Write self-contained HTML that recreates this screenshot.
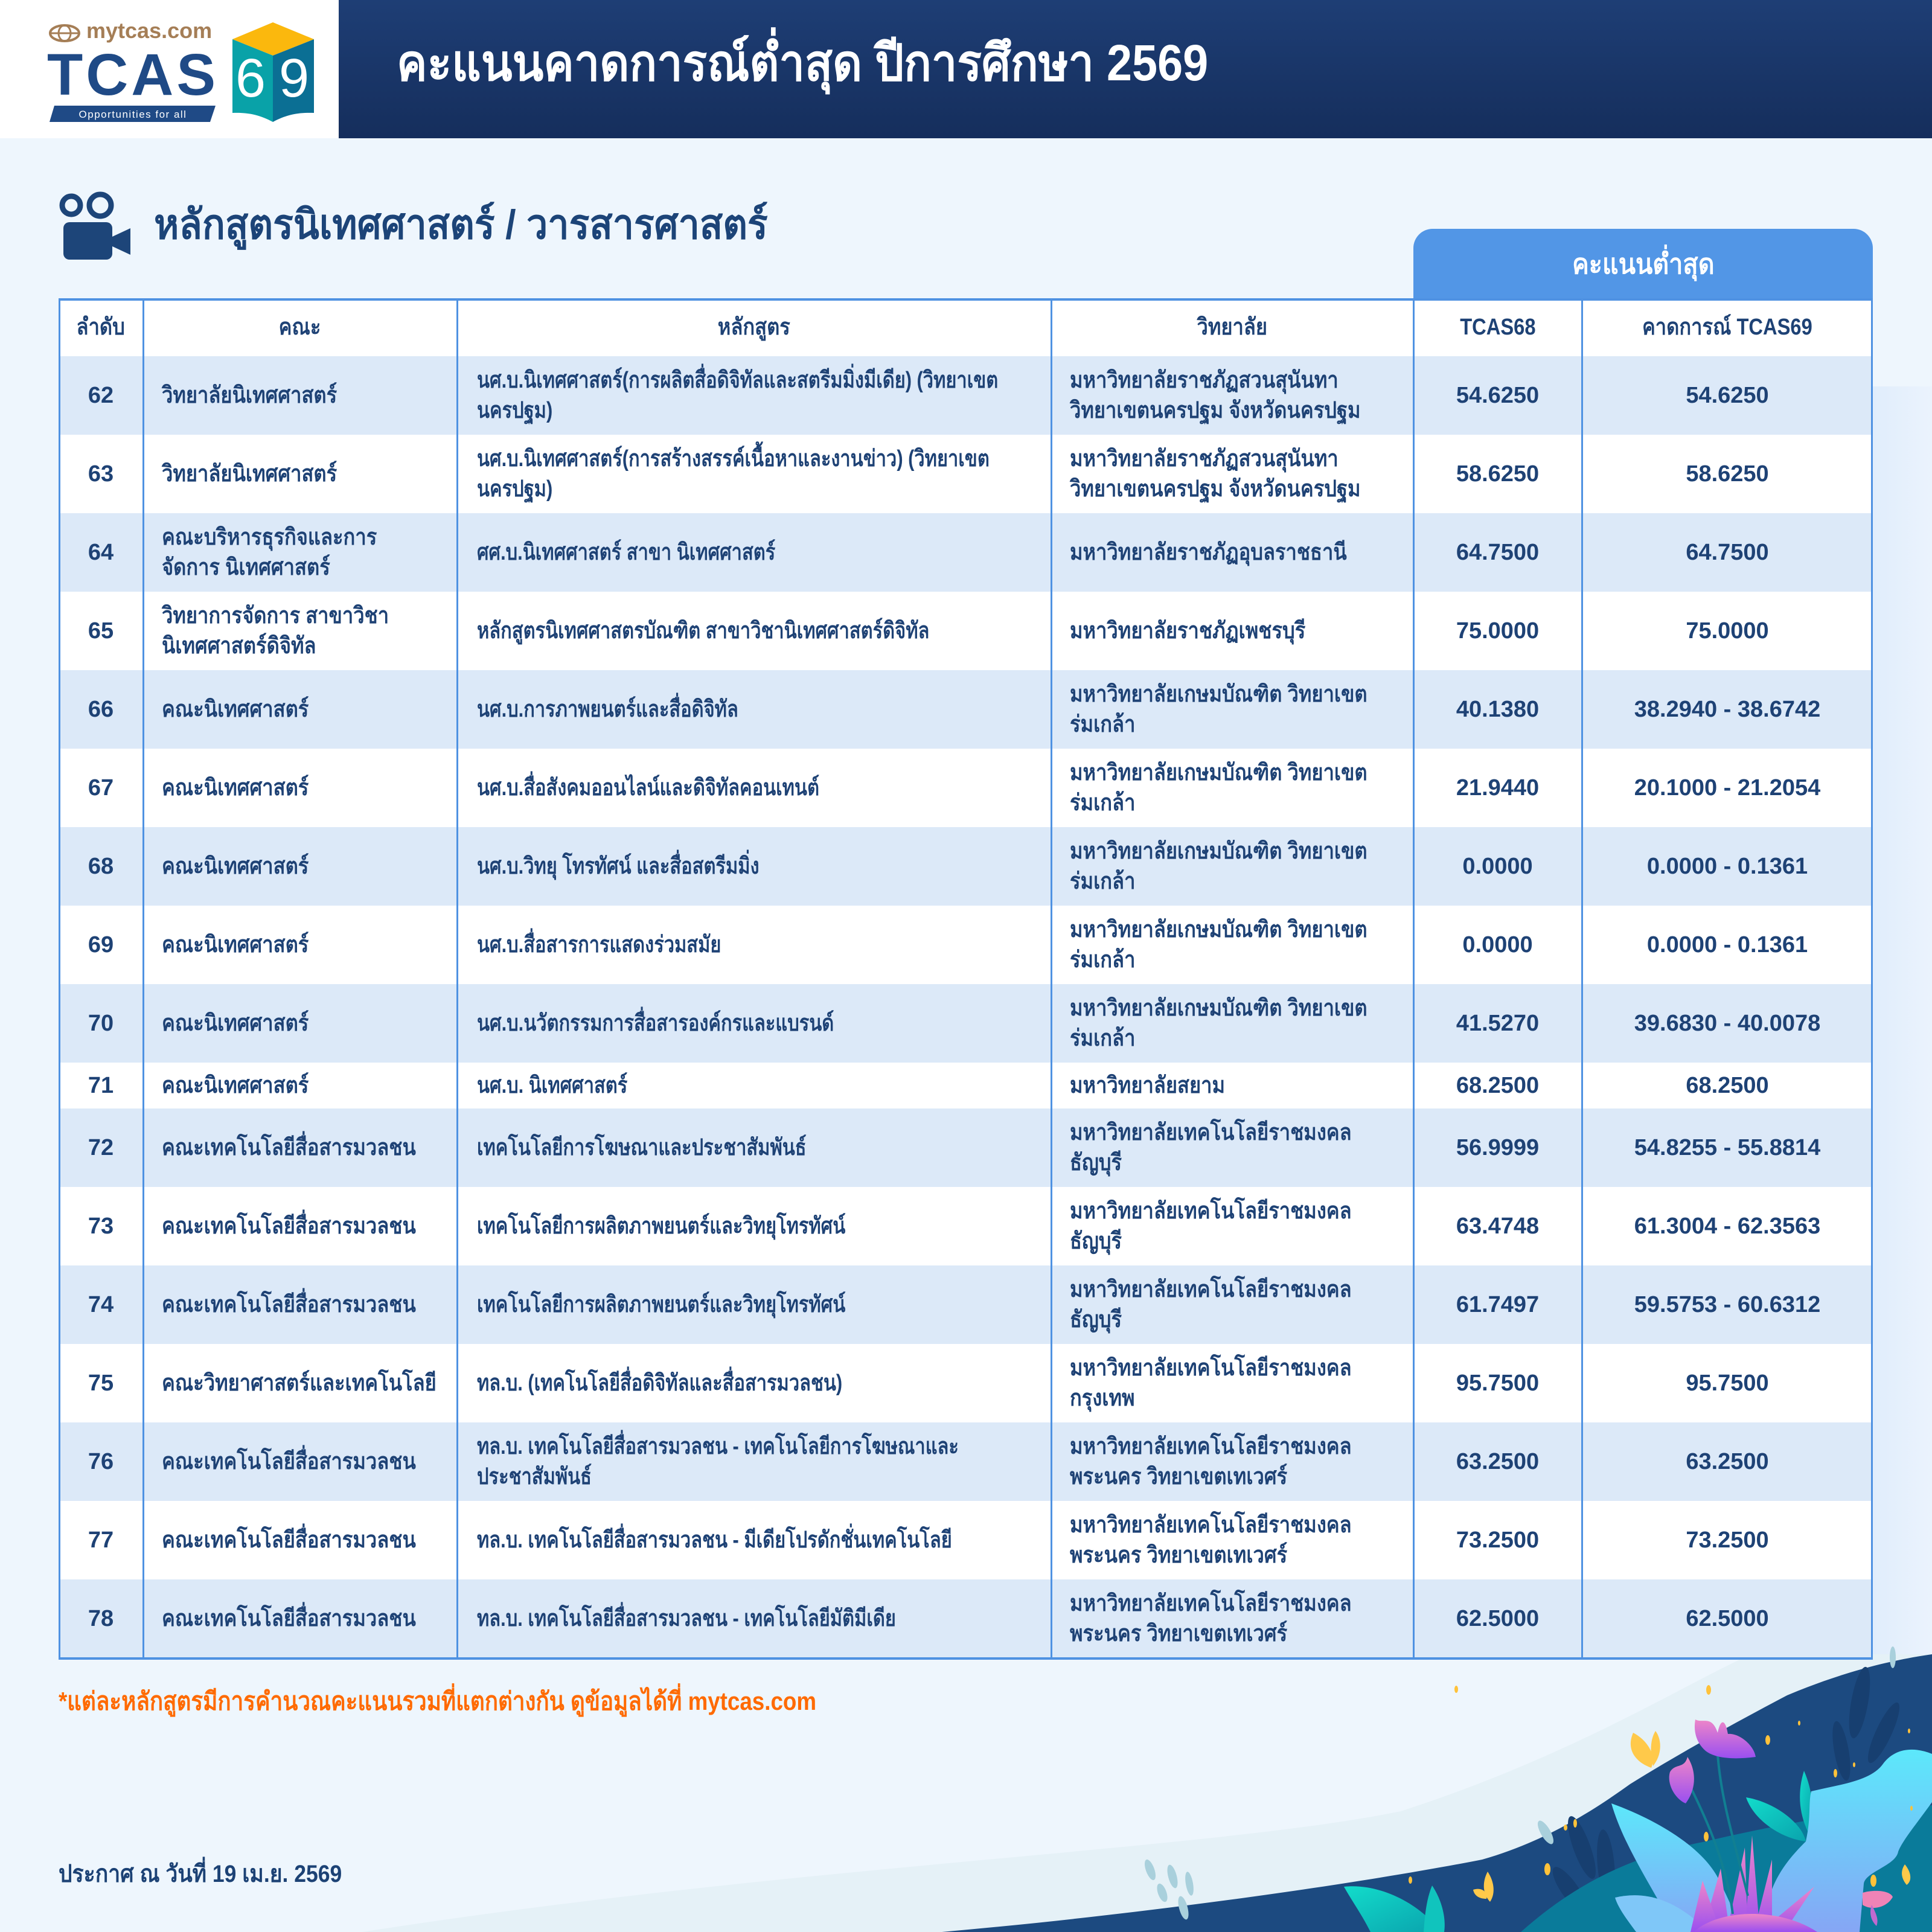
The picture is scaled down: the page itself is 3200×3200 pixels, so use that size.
<!DOCTYPE html>
<html lang="th">
<head>
<meta charset="utf-8">
<style>
  html,body{margin:0;padding:0;}
  body{width:3200px;height:3200px;position:relative;overflow:hidden;background:#eef6fd;
    font-family:"Liberation Sans","Noto Sans CJK SC","DejaVu Sans",sans-serif;}
  .abs{position:absolute;}
  .hdr{left:561px;top:0;width:2639px;height:229px;background:linear-gradient(#1e3e75,#152e5c);}
  .logo{left:0;top:0;width:561px;height:229px;background:#ffffff;}
  .title{left:657px;top:62px;font-size:84px;line-height:1;font-weight:700;color:#ffffff;white-space:nowrap;transform:scaleX(0.9);transform-origin:0 50%;}
  .sec{left:255px;top:338px;font-size:68px;line-height:1;font-weight:700;color:#1c4478;white-space:nowrap;transform:scaleX(0.924);transform-origin:0 50%;}
  .tab{left:2341px;top:379px;width:761px;height:119px;background:#5296e6;border-radius:32px 32px 0 0;
    display:flex;align-items:center;justify-content:center;color:#fff;font-size:46px;font-weight:700;padding-bottom:2px;box-sizing:border-box;}
  .tab span{display:inline-block;transform:scaleX(0.9);}
  .row{position:absolute;left:97px;width:3005px;display:flex;}
  .row.b{background:#dce9f8;}
  .row.w{background:#ffffff;}
  .c{display:flex;align-items:center;white-space:nowrap;line-height:50px;font-size:38px;font-weight:700;color:#1e4275;box-sizing:border-box;height:100%;}
  .c1{width:140px;justify-content:center;}
  .c2{width:520px;padding-left:31px;}
  .c3{width:984px;padding-left:33px;}
  .c4{width:600px;padding-left:31px;}
  .c5{width:279px;justify-content:center;}
  .c6{width:482px;justify-content:center;}
  .c2>span,.c4>span{display:inline-block;transform:scaleX(0.86);transform-origin:0 50%;}
  .c3>span{display:inline-block;transform:scaleX(0.81);transform-origin:0 50%;}
  .hrow .c{justify-content:center;padding-left:0;}
  .hrow .c>span{display:inline-block;transform:scaleX(0.86);transform-origin:50% 50%;}
  .vl{position:absolute;top:494px;height:2255px;width:3px;background:#4f92e2;}
  .foot{left:97px;top:2797px;font-size:42px;line-height:1;font-weight:700;color:#ff6a00;white-space:nowrap;transform:scaleX(0.875);transform-origin:0 50%;}
  .date{left:97px;top:3084px;font-size:40px;line-height:1;font-weight:700;color:#1c4275;white-space:nowrap;transform:scaleX(0.888);transform-origin:0 50%;}
</style>
</head>
<body>

<!-- bottom-right illustration -->
<svg class="abs" style="left:0;top:0" width="3200" height="3200" viewBox="0 0 3200 3200">
  <defs>
    <linearGradient id="cy" x1="0" y1="0" x2="0" y2="1">
      <stop offset="0" stop-color="#5ce8fb"/>
      <stop offset="1" stop-color="#86a6f5"/>
    </linearGradient>
    <linearGradient id="pk" x1="0" y1="0" x2="0" y2="1">
      <stop offset="0" stop-color="#ee86c8"/>
      <stop offset="1" stop-color="#9a4ff0"/>
    </linearGradient>
    <linearGradient id="rp" x1="0" y1="0" x2="1" y2="0">
      <stop offset="0" stop-color="#e0edfc"/>
      <stop offset="1" stop-color="#ebf3fd"/>
    </linearGradient>
    <linearGradient id="tl" x1="0" y1="0" x2="1" y2="1">
      <stop offset="0" stop-color="#12dccb"/>
      <stop offset="1" stop-color="#0aa3ad"/>
    </linearGradient>
  </defs>
  <rect x="3102" y="640" width="98" height="2110" fill="url(#rp)"/>
  <path d="M 600 3200 C 1300 3090, 2000 3065, 2320 3000 C 2600 2910, 2790 2790, 2900 2740 L 3200 2740 L 3200 3200 Z" fill="#e5f1f7"/>
  <path d="M 1560 3200 C 1900 3170, 2250 3120, 2455 3080 C 2560 3050, 2640 2998, 2700 2955 C 2780 2905, 2880 2850, 2960 2808 C 3050 2770, 3130 2750, 3200 2740 L 3200 3200 Z" fill="#1c4a80"/>
  <!-- dark leaf silhouettes -->
  <g fill="#173f70">
    <ellipse cx="3080" cy="2820" rx="14" ry="60" transform="rotate(10 3080 2820)"/>
    <ellipse cx="3120" cy="2870" rx="13" ry="55" transform="rotate(25 3120 2870)"/>
    <ellipse cx="3050" cy="2900" rx="12" ry="50" transform="rotate(-10 3050 2900)"/>
    <ellipse cx="2620" cy="3060" rx="14" ry="55" transform="rotate(-20 2620 3060)"/>
    <ellipse cx="2660" cy="3090" rx="14" ry="60" transform="rotate(-5 2660 3090)"/>
    <ellipse cx="2600" cy="3130" rx="14" ry="45" transform="rotate(-35 2600 3130)"/>
  </g>
  <path d="M 2519 3200 C 2620 3110, 2720 3070, 2825 3050 C 2950 3020, 3100 2995, 3200 2990 L 3200 3200 Z" fill="#0a7b9a"/>
  <!-- teal leaves behind -->
  <path d="M 2892 2977 C 2940 2985, 2985 3020, 2991 3050 C 2950 3045, 2905 3015, 2892 2977 Z" fill="url(#tl)"/>
  <path d="M 2988 2933 C 3002 2965, 3006 3000, 2995 3035 C 2978 3000, 2978 2965, 2988 2933 Z" fill="url(#tl)"/>
  <!-- cyan blob right -->
  <path d="M 2921 3200 C 2925 3140, 2940 3100, 2991 3050 C 3000 3010, 2995 2985, 3000 2967 C 3050 2955, 3100 2950, 3120 2920 C 3140 2895, 3170 2893, 3200 2905 L 3200 2985 C 3175 3020, 3150 3050, 3144 3067 C 3140 3090, 3090 3100, 3087 3120 L 3080 3200 Z" fill="url(#cy)"/>
  <!-- big cyan leaf -->
  <path d="M 2669 2987 C 2760 3020, 2830 3070, 2850 3120 C 2870 3160, 2880 3185, 2885 3200 L 2775 3200 C 2740 3130, 2690 3060, 2669 2987 Z" fill="url(#cy)"/>
  <path d="M 2675 3143 C 2730 3130, 2780 3150, 2830 3200 L 2710 3200 C 2695 3180, 2680 3160, 2675 3143 Z" fill="#7fc7f8"/>
  <!-- teal leaves bottom-left -->
  <path d="M 2226 3125 C 2290 3118, 2360 3160, 2385 3200 L 2270 3200 C 2255 3170, 2240 3150, 2226 3125 Z" fill="url(#tl)"/>
  <path d="M 2372 3123 C 2390 3150, 2395 3180, 2392 3200 L 2358 3200 C 2360 3170, 2363 3145, 2372 3123 Z" fill="#10c4bd"/>
  <!-- pink grass -->
  <g fill="url(#pk)">
    <path d="M 2820 3200 L 2850 3095 L 2865 3200 Z"/>
    <path d="M 2860 3200 L 2890 3060 L 2895 3200 Z"/>
    <path d="M 2890 3200 L 2902 3040 L 2915 3200 Z"/>
    <path d="M 2905 3200 L 2935 3080 L 2935 3200 Z"/>
    <path d="M 2915 3200 L 3005 3125 L 2955 3200 Z"/>
    <path d="M 2800 3200 L 2820 3115 L 2850 3200 Z"/>
    <path d="M 2805 3200 C 2850 3160, 2950 3160, 3010 3200 Z"/>
  </g>
  <!-- flowers -->
  <g stroke="#117f92" stroke-width="4" fill="none">
    <path d="M 2845 2905 C 2850 2980, 2875 3060, 2895 3140"/>
    <path d="M 2800 2960 C 2830 3020, 2860 3090, 2870 3170"/>
  </g>
  <path d="M 2808 2848 C 2820 2855, 2835 2840, 2845 2870 C 2850 2845, 2858 2848, 2862 2872 C 2880 2870, 2905 2890, 2908 2910 C 2870 2915, 2840 2912, 2825 2900 C 2808 2885, 2805 2865, 2808 2848 Z" fill="url(#pk)"/>
  <path d="M 2766 2935 C 2775 2920, 2790 2930, 2795 2910 C 2808 2930, 2812 2960, 2792 2987 C 2775 2980, 2760 2955, 2766 2935 Z" fill="url(#pk)"/>
  <path d="M 3085 3135 C 3100 3130, 3130 3130, 3135 3142 C 3125 3160, 3100 3165, 3085 3155 Z" fill="#f083b6"/>
  <path d="M 3100 3155 C 3108 3170, 3112 3180, 3108 3190 C 3098 3180, 3096 3168, 3100 3155 Z" fill="#c06ad0"/>
  <!-- butterflies -->
  <g fill="#ffc94a">
    <path d="M 2705 2870 C 2725 2880, 2745 2905, 2735 2928 C 2712 2920, 2692 2900, 2705 2870 Z"/>
    <path d="M 2742 2867 C 2752 2880, 2754 2905, 2738 2925 C 2732 2900, 2734 2880, 2742 2867 Z"/>
    <path d="M 2464 3100 C 2474 3115, 2478 3135, 2468 3150 C 2454 3135, 2456 3115, 2464 3100 Z"/>
    <path d="M 2440 3130 C 2455 3125, 2465 3135, 2462 3145 C 2450 3145, 2442 3140, 2440 3130 Z"/>
    <path d="M 3155 3088 C 3165 3100, 3168 3115, 3158 3122 C 3148 3110, 3148 3098, 3155 3088 Z"/>
  </g>
  <g fill="#ffc23a">
    <ellipse cx="2412" cy="2798" rx="3" ry="6"/>
    <ellipse cx="2830" cy="2799" rx="4" ry="8"/>
    <ellipse cx="2928" cy="2882" rx="4" ry="8"/>
    <ellipse cx="2593" cy="3027" rx="3" ry="5"/>
    <ellipse cx="2563" cy="3096" rx="5" ry="10"/>
    <ellipse cx="2609" cy="3020" rx="3" ry="7"/>
    <ellipse cx="2336" cy="3114" rx="3" ry="6"/>
    <ellipse cx="2826" cy="3042" rx="4" ry="8"/>
    <ellipse cx="3040" cy="2937" rx="3" ry="7"/>
    <ellipse cx="3071" cy="2923" rx="2" ry="4"/>
    <ellipse cx="3103" cy="3115" rx="5" ry="10"/>
    <ellipse cx="3166" cy="2995" rx="2" ry="4"/>
    <ellipse cx="3162" cy="2867" rx="2" ry="4"/>
    <ellipse cx="2980" cy="2854" rx="2" ry="4"/>
  </g>
  <g fill="#a9d0dc">
    <ellipse cx="1905" cy="3097" rx="7" ry="18" transform="rotate(-20 1905 3097)"/>
    <ellipse cx="1942" cy="3108" rx="7" ry="20" transform="rotate(-15 1942 3108)"/>
    <ellipse cx="1970" cy="3120" rx="6" ry="20" transform="rotate(-10 1970 3120)"/>
    <ellipse cx="1925" cy="3135" rx="7" ry="16" transform="rotate(-20 1925 3135)"/>
    <ellipse cx="1960" cy="3160" rx="7" ry="20" transform="rotate(-15 1960 3160)"/>
    <ellipse cx="2560" cy="3035" rx="8" ry="22" transform="rotate(-30 2560 3035)"/>
    <ellipse cx="3135" cy="2745" rx="5" ry="18"/>
  </g>
</svg>

<!-- header -->
<div class="abs logo"></div>
<div class="abs hdr"></div>
<div class="abs title">คะแนนคาดการณ์ต่ำสุด ปีการศึกษา 2569</div>

<!-- logo -->
<svg class="abs" style="left:0;top:0" width="561" height="229" viewBox="0 0 561 229">
  <ellipse cx="107" cy="55" rx="24" ry="13" fill="none" stroke="#a57e56" stroke-width="4"/>
  <ellipse cx="107" cy="55" rx="10" ry="13" fill="none" stroke="#a57e56" stroke-width="3"/>
  <line x1="83" y1="55" x2="131" y2="55" stroke="#a57e56" stroke-width="3"/>
  <polygon points="90,175 357,175 348,202 82,202" fill="#1f4a86"/>
  <polygon points="385,65 452,37 520,65 452,92" fill="#fbb80d"/>
  <path d="M385 65 L452 92 L452 202 C 430 190, 410 186, 385 187 Z" fill="#09a2a8"/>
  <path d="M520 65 L452 92 L452 202 C 474 190, 494 186, 520 187 Z" fill="#0b6f94"/>
  <text x="415" y="160" font-family="Liberation Sans, sans-serif" font-size="90" fill="#ffffff" text-anchor="middle">6</text>
  <text x="487" y="160" font-family="Liberation Sans, sans-serif" font-size="90" fill="#ffffff" text-anchor="middle">9</text>
  <text x="220" y="195" font-family="Liberation Sans, sans-serif" font-size="17" fill="#ffffff" text-anchor="middle" letter-spacing="1.5">Opportunities for all</text>
</svg>
<div class="abs" style="left:143px;top:33px;font-size:36px;line-height:1;font-weight:700;color:#a57e56;white-space:nowrap;">mytcas.com</div>
<div class="abs" style="left:78px;top:75px;font-size:97px;line-height:1;font-weight:700;color:#1f4a86;white-space:nowrap;letter-spacing:5px;">TCAS</div>

<!-- section icon -->
<svg class="abs" style="left:90px;top:310px" width="140" height="130" viewBox="90 310 140 130">
  <circle cx="118" cy="340" r="15" fill="none" stroke="#1d4579" stroke-width="9"/>
  <circle cx="166" cy="340" r="18" fill="none" stroke="#1d4579" stroke-width="9"/>
  <rect x="105" y="368" width="81" height="62" rx="10" fill="#1d4579"/>
  <polygon points="186,392 216,378 216,422 186,408" fill="#1d4579"/>
</svg>
<div class="abs sec">หลักสูตรนิเทศศาสตร์ / วารสารศาสตร์</div>

<!-- tab -->
<div class="abs tab"><span>คะแนนต่ำสุด</span></div>

<!-- table header -->
<div class="row w hrow" style="top:494px;height:96px;">
  <div class="c c1"><span>ลำดับ</span></div>
  <div class="c c2"><span>คณะ</span></div>
  <div class="c c3"><span>หลักสูตร</span></div>
  <div class="c c4"><span>วิทยาลัย</span></div>
  <div class="c c5"><span>TCAS68</span></div>
  <div class="c c6"><span>คาดการณ์ TCAS69</span></div>
</div>

<div class="row b" style="top:590px;height:130px;">
  <div class="c c1">62</div><div class="c c2"><span>วิทยาลัยนิเทศศาสตร์</span></div>
  <div class="c c3"><span>นศ.บ.นิเทศศาสตร์(การผลิตสื่อดิจิทัลและสตรีมมิ่งมีเดีย) (วิทยาเขต<br>นครปฐม)</span></div>
  <div class="c c4"><span>มหาวิทยาลัยราชภัฏสวนสุนันทา<br>วิทยาเขตนครปฐม จังหวัดนครปฐม</span></div>
  <div class="c c5">54.6250</div><div class="c c6">54.6250</div>
</div>
<div class="row w" style="top:720px;height:130px;">
  <div class="c c1">63</div><div class="c c2"><span>วิทยาลัยนิเทศศาสตร์</span></div>
  <div class="c c3"><span>นศ.บ.นิเทศศาสตร์(การสร้างสรรค์เนื้อหาและงานข่าว) (วิทยาเขต<br>นครปฐม)</span></div>
  <div class="c c4"><span>มหาวิทยาลัยราชภัฏสวนสุนันทา<br>วิทยาเขตนครปฐม จังหวัดนครปฐม</span></div>
  <div class="c c5">58.6250</div><div class="c c6">58.6250</div>
</div>
<div class="row b" style="top:850px;height:130px;">
  <div class="c c1">64</div><div class="c c2"><span>คณะบริหารธุรกิจและการ<br>จัดการ นิเทศศาสตร์</span></div>
  <div class="c c3"><span>ศศ.บ.นิเทศศาสตร์ สาขา นิเทศศาสตร์</span></div>
  <div class="c c4"><span>มหาวิทยาลัยราชภัฏอุบลราชธานี</span></div>
  <div class="c c5">64.7500</div><div class="c c6">64.7500</div>
</div>
<div class="row w" style="top:980px;height:130px;">
  <div class="c c1">65</div><div class="c c2"><span>วิทยาการจัดการ สาขาวิชา<br>นิเทศศาสตร์ดิจิทัล</span></div>
  <div class="c c3"><span>หลักสูตรนิเทศศาสตรบัณฑิต สาขาวิชานิเทศศาสตร์ดิจิทัล</span></div>
  <div class="c c4"><span>มหาวิทยาลัยราชภัฏเพชรบุรี</span></div>
  <div class="c c5">75.0000</div><div class="c c6">75.0000</div>
</div>
<div class="row b" style="top:1110px;height:130px;">
  <div class="c c1">66</div><div class="c c2"><span>คณะนิเทศศาสตร์</span></div>
  <div class="c c3"><span>นศ.บ.การภาพยนตร์และสื่อดิจิทัล</span></div>
  <div class="c c4"><span>มหาวิทยาลัยเกษมบัณฑิต วิทยาเขต<br>ร่มเกล้า</span></div>
  <div class="c c5">40.1380</div><div class="c c6">38.2940 - 38.6742</div>
</div>
<div class="row w" style="top:1240px;height:130px;">
  <div class="c c1">67</div><div class="c c2"><span>คณะนิเทศศาสตร์</span></div>
  <div class="c c3"><span>นศ.บ.สื่อสังคมออนไลน์และดิจิทัลคอนเทนต์</span></div>
  <div class="c c4"><span>มหาวิทยาลัยเกษมบัณฑิต วิทยาเขต<br>ร่มเกล้า</span></div>
  <div class="c c5">21.9440</div><div class="c c6">20.1000 - 21.2054</div>
</div>
<div class="row b" style="top:1370px;height:130px;">
  <div class="c c1">68</div><div class="c c2"><span>คณะนิเทศศาสตร์</span></div>
  <div class="c c3"><span>นศ.บ.วิทยุ โทรทัศน์ และสื่อสตรีมมิ่ง</span></div>
  <div class="c c4"><span>มหาวิทยาลัยเกษมบัณฑิต วิทยาเขต<br>ร่มเกล้า</span></div>
  <div class="c c5">0.0000</div><div class="c c6">0.0000 - 0.1361</div>
</div>
<div class="row w" style="top:1500px;height:130px;">
  <div class="c c1">69</div><div class="c c2"><span>คณะนิเทศศาสตร์</span></div>
  <div class="c c3"><span>นศ.บ.สื่อสารการแสดงร่วมสมัย</span></div>
  <div class="c c4"><span>มหาวิทยาลัยเกษมบัณฑิต วิทยาเขต<br>ร่มเกล้า</span></div>
  <div class="c c5">0.0000</div><div class="c c6">0.0000 - 0.1361</div>
</div>
<div class="row b" style="top:1630px;height:130px;">
  <div class="c c1">70</div><div class="c c2"><span>คณะนิเทศศาสตร์</span></div>
  <div class="c c3"><span>นศ.บ.นวัตกรรมการสื่อสารองค์กรและแบรนด์</span></div>
  <div class="c c4"><span>มหาวิทยาลัยเกษมบัณฑิต วิทยาเขต<br>ร่มเกล้า</span></div>
  <div class="c c5">41.5270</div><div class="c c6">39.6830 - 40.0078</div>
</div>
<div class="row w" style="top:1760px;height:76px;">
  <div class="c c1">71</div><div class="c c2"><span>คณะนิเทศศาสตร์</span></div>
  <div class="c c3"><span>นศ.บ. นิเทศศาสตร์</span></div>
  <div class="c c4"><span>มหาวิทยาลัยสยาม</span></div>
  <div class="c c5">68.2500</div><div class="c c6">68.2500</div>
</div>
<div class="row b" style="top:1836px;height:130px;">
  <div class="c c1">72</div><div class="c c2"><span>คณะเทคโนโลยีสื่อสารมวลชน</span></div>
  <div class="c c3"><span>เทคโนโลยีการโฆษณาและประชาสัมพันธ์</span></div>
  <div class="c c4"><span>มหาวิทยาลัยเทคโนโลยีราชมงคล<br>ธัญบุรี</span></div>
  <div class="c c5">56.9999</div><div class="c c6">54.8255 - 55.8814</div>
</div>
<div class="row w" style="top:1966px;height:130px;">
  <div class="c c1">73</div><div class="c c2"><span>คณะเทคโนโลยีสื่อสารมวลชน</span></div>
  <div class="c c3"><span>เทคโนโลยีการผลิตภาพยนตร์และวิทยุโทรทัศน์</span></div>
  <div class="c c4"><span>มหาวิทยาลัยเทคโนโลยีราชมงคล<br>ธัญบุรี</span></div>
  <div class="c c5">63.4748</div><div class="c c6">61.3004 - 62.3563</div>
</div>
<div class="row b" style="top:2096px;height:130px;">
  <div class="c c1">74</div><div class="c c2"><span>คณะเทคโนโลยีสื่อสารมวลชน</span></div>
  <div class="c c3"><span>เทคโนโลยีการผลิตภาพยนตร์และวิทยุโทรทัศน์</span></div>
  <div class="c c4"><span>มหาวิทยาลัยเทคโนโลยีราชมงคล<br>ธัญบุรี</span></div>
  <div class="c c5">61.7497</div><div class="c c6">59.5753 - 60.6312</div>
</div>
<div class="row w" style="top:2226px;height:130px;">
  <div class="c c1">75</div><div class="c c2"><span>คณะวิทยาศาสตร์และเทคโนโลยี</span></div>
  <div class="c c3"><span>ทล.บ. (เทคโนโลยีสื่อดิจิทัลและสื่อสารมวลชน)</span></div>
  <div class="c c4"><span>มหาวิทยาลัยเทคโนโลยีราชมงคล<br>กรุงเทพ</span></div>
  <div class="c c5">95.7500</div><div class="c c6">95.7500</div>
</div>
<div class="row b" style="top:2356px;height:130px;">
  <div class="c c1">76</div><div class="c c2"><span>คณะเทคโนโลยีสื่อสารมวลชน</span></div>
  <div class="c c3"><span>ทล.บ. เทคโนโลยีสื่อสารมวลชน - เทคโนโลยีการโฆษณาและ<br>ประชาสัมพันธ์</span></div>
  <div class="c c4"><span>มหาวิทยาลัยเทคโนโลยีราชมงคล<br>พระนคร วิทยาเขตเทเวศร์</span></div>
  <div class="c c5">63.2500</div><div class="c c6">63.2500</div>
</div>
<div class="row w" style="top:2486px;height:130px;">
  <div class="c c1">77</div><div class="c c2"><span>คณะเทคโนโลยีสื่อสารมวลชน</span></div>
  <div class="c c3"><span>ทล.บ. เทคโนโลยีสื่อสารมวลชน - มีเดียโปรดักชั่นเทคโนโลยี</span></div>
  <div class="c c4"><span>มหาวิทยาลัยเทคโนโลยีราชมงคล<br>พระนคร วิทยาเขตเทเวศร์</span></div>
  <div class="c c5">73.2500</div><div class="c c6">73.2500</div>
</div>
<div class="row b" style="top:2616px;height:130px;">
  <div class="c c1">78</div><div class="c c2"><span>คณะเทคโนโลยีสื่อสารมวลชน</span></div>
  <div class="c c3"><span>ทล.บ. เทคโนโลยีสื่อสารมวลชน - เทคโนโลยีมัติมีเดีย</span></div>
  <div class="c c4"><span>มหาวิทยาลัยเทคโนโลยีราชมงคล<br>พระนคร วิทยาเขตเทเวศร์</span></div>
  <div class="c c5">62.5000</div><div class="c c6">62.5000</div>
</div>

<!-- table lines -->
<div class="abs" style="left:97px;top:494px;width:3005px;height:4px;background:#4f92e2;"></div>
<div class="abs" style="left:97px;top:2745px;width:3005px;height:4px;background:#4f92e2;"></div>
<div class="vl" style="left:97px;"></div>
<div class="vl" style="left:236px;"></div>
<div class="vl" style="left:756px;"></div>
<div class="vl" style="left:1740px;"></div>
<div class="vl" style="left:2340px;"></div>
<div class="vl" style="left:2619px;"></div>
<div class="vl" style="left:3099px;"></div>

<!-- footer -->
<div class="abs foot">*แต่ละหลักสูตรมีการคำนวณคะแนนรวมที่แตกต่างกัน ดูข้อมูลได้ที่ mytcas.com</div>
<div class="abs date">ประกาศ ณ วันที่ 19 เม.ย. 2569</div>

</body>
</html>
